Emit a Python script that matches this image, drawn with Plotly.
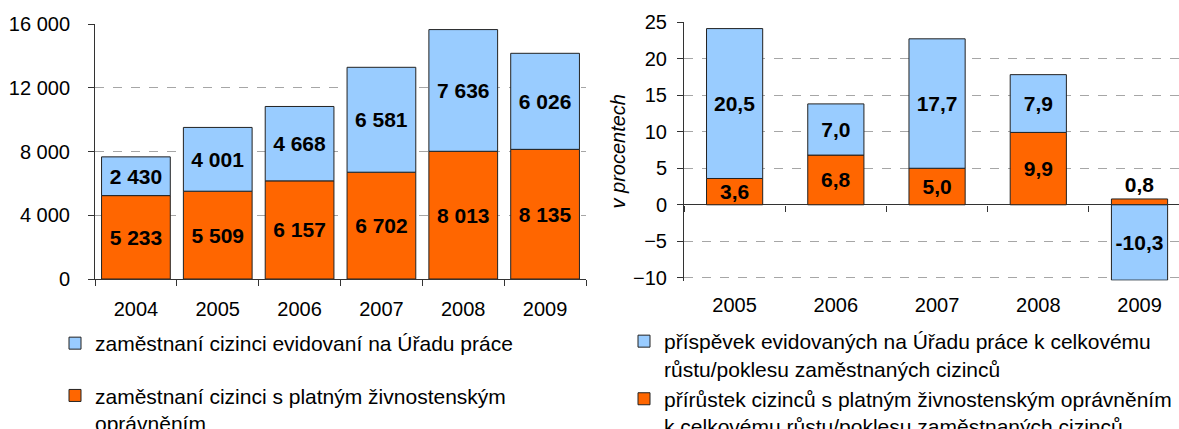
import plotly.graph_objects as go

# ---- data ----
years_left = ["2004", "2005", "2006", "2007", "2008", "2009"]
trade_license = [5233, 5509, 6157, 6702, 8013, 8135]
labour_office = [2430, 4001, 4668, 6581, 7636, 6026]

years_right = ["2005", "2006", "2007", "2008", "2009"]
growth_trade = [3.6, 6.8, 5.0, 9.9, 0.8]
growth_office = [20.5, 7.0, 17.7, 7.9, -10.3]

left_ticks = [0, 4000, 8000, 12000, 16000]
right_ticks = [-10, -5, 0, 5, 10, 15, 20, 25]

name_l_office = "zaměstnaní cizinci evidovaní na Úřadu práce"
name_l_trade = "zaměstnaní cizinci s platným živnostenským<br>oprávněním"
name_r_office = "příspěvek evidovaných na Úřadu práce k celkovému<br>růstu/poklesu zaměstnaných cizinců"
name_r_trade = "přírůstek cizinců s platným živnostenským oprávněním<br>k celkovému růstu/poklesu zaměstnaných cizinců"

ORANGE = "#FF6600"
BLUE = "#99CCFF"
EDGE = "#222222"
FONT = "Liberation Sans, Arial, sans-serif"

fig = go.Figure()

label_font = dict(family=FONT, size=21, color="black", weight="bold")

# left chart
fig.add_trace(go.Bar(x=years_left, y=trade_license, name=name_l_trade, marker=dict(color=ORANGE, line=dict(color=EDGE, width=1)),
                     width=0.84, texttemplate="%{y:,d}", textposition="inside", insidetextanchor="middle",
                     constraintext="none", textfont=label_font, xaxis="x", yaxis="y", legend="legend", legendrank=2,
                     legendgroup="a", hoverinfo="skip"))
fig.add_trace(go.Bar(x=years_left, y=labour_office, name=name_l_office, marker=dict(color=BLUE, line=dict(color=EDGE, width=1)),
                     width=0.84, texttemplate="%{y:,d}", textposition="inside", insidetextanchor="middle",
                     constraintext="none", textfont=label_font, xaxis="x", yaxis="y", legend="legend", legendrank=1,
                     legendgroup="b", hoverinfo="skip"))

# right chart
tpos_trade = ["inside" if v > 2 else "outside" for v in growth_trade]
fig.add_trace(go.Bar(x=years_right, y=growth_trade, name=name_r_trade, marker=dict(color=ORANGE, line=dict(color=EDGE, width=1)),
                     width=0.555, texttemplate="%{y:.1f}", textposition=tpos_trade, insidetextanchor="middle",
                     constraintext="none", textfont=label_font, cliponaxis=False, xaxis="x2", yaxis="y2",
                     legend="legend2", legendrank=2, legendgroup="c", hoverinfo="skip"))
fig.add_trace(go.Bar(x=years_right, y=growth_office, name=name_r_office, marker=dict(color=BLUE, line=dict(color=EDGE, width=1)),
                     width=0.555, texttemplate="%{y:.1f}", textposition="inside", insidetextanchor="middle",
                     constraintext="none", textfont=label_font, cliponaxis=False, xaxis="x2", yaxis="y2",
                     legend="legend2", legendrank=1, legendgroup="d", hoverinfo="skip"))

tick_font = dict(family=FONT, size=20, color="black")
grid = dict(showgrid=True, gridcolor="#A6A6A6", griddash="dash", gridwidth=1)

ydom_l = [1 - 279 / 429, 1 - 24 / 429]
ydom_r = [1 - 280.5 / 429, 1 - 22 / 429]
yr_r = [min(right_ticks) - 0.35, max(right_ticks)]
nR = len(years_right)
xr_r = [-0.5, nR - 0.5 - 0.11]
zero_pos = ydom_r[0] + (0 - yr_r[0]) / (yr_r[1] - yr_r[0]) * (ydom_r[1] - ydom_r[0])

fig.update_layout(
    width=1179, height=429,
    margin=dict(l=0, r=0, t=0, b=0, autoexpand=False),
    paper_bgcolor="white", plot_bgcolor="white",
    barmode="relative",
    separators=", ",
    font=dict(family=FONT, size=20, color="black"),
    showlegend=True,
    xaxis=dict(domain=[95 / 1179, 586 / 1179], type="category", tickson="boundaries", ticks="outside", ticklen=6,
               tickcolor="#333", showline=True, linecolor="#333", linewidth=1, tickfont=tick_font,
               ticklabelstandoff=12, anchor="y", range=[-0.5, len(years_left) - 0.5], automargin=False),
    yaxis=dict(domain=ydom_l, range=[min(left_ticks), max(left_ticks)], tickvals=left_ticks, tickformat=",d",
               ticks="outside", ticklen=6, tickcolor="#333", showline=True, linecolor="#333", linewidth=1,
               tickfont=tick_font, ticklabelstandoff=14, zeroline=False, anchor="x", automargin=False, **grid),
    xaxis2=dict(domain=[684 / 1179, 1.0], type="category", ticks="", showline=False, tickfont=tick_font,
                ticklabelstandoff=10, anchor="y2", range=xr_r, showgrid=False, automargin=False),
    xaxis3=dict(overlaying="x2", anchor="free", position=zero_pos, range=xr_r,
                tickvals=[i + 0.5 for i in range(nR - 1)] + [-0.5], ticks="outside", ticklen=6, tickcolor="#333",
                showticklabels=False, showline=False, showgrid=False, zeroline=False),
    yaxis2=dict(domain=ydom_r, range=yr_r, tickvals=right_ticks, ticks="outside", ticklen=6, tickcolor="#333",
                showline=True, linecolor="#333", linewidth=1, tickfont=tick_font, ticklabelstandoff=6,
                zeroline=True, zerolinecolor="#333", zerolinewidth=1, anchor="x2", automargin=False,
                title=dict(text="v procentech", font=dict(family=FONT, size=20, style="italic"), standoff=2),
                **grid),
    legend=dict(x=55 / 1179, y=1 - 323 / 429, xanchor="left", yanchor="top", orientation="v", valign="top",
                font=dict(family=FONT, size=21), tracegroupgap=22, itemwidth=30, bgcolor="rgba(0,0,0,0)",
                traceorder="grouped"),
    legend2=dict(x=624 / 1179, y=1 - 321 / 429, xanchor="left", yanchor="top", orientation="v", valign="top",
                 font=dict(family=FONT, size=21), tracegroupgap=0, itemwidth=30, bgcolor="rgba(0,0,0,0)",
                 traceorder="grouped"),
)

# dummy trace to activate xaxis3
fig.add_trace(go.Scatter(x=[None], y=[None], xaxis="x3", yaxis="y2", showlegend=False, hoverinfo="skip"))

fig.write_html("out.html", config={"displayModeBar": False},
               post_script="document.body.style.margin='0';document.body.style.padding='0';window.dispatchEvent(new Event('resize'));")
